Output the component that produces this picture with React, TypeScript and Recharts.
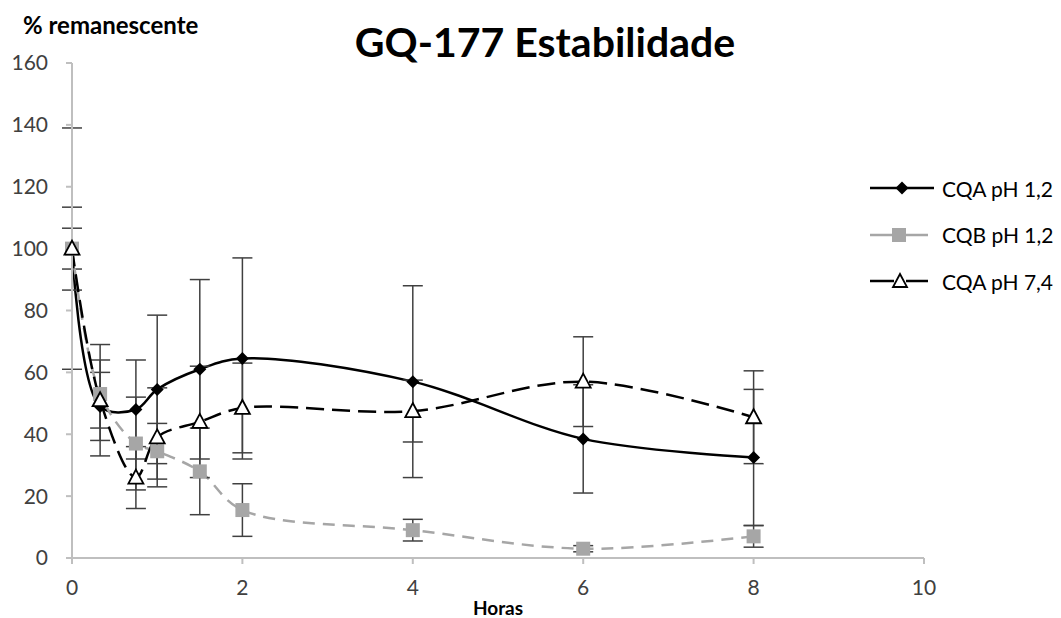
import React from 'react';
import { LineChart, Line, XAxis, YAxis, ErrorBar } from 'recharts';

const hours = [0, 0.33, 0.75, 1, 1.5, 2, 4, 6, 8];
const cqa12 = [100, 49, 48, 54.5, 61, 64.5, 57, 38.5, 32.5];
const cqa12Err = [39, 11, 16, 24, 29, 32.5, 31, 17.5, 22];
const cqb12 = [100, 53, 37, 34.5, 28, 15.5, 9, 3, 7];
const cqb12Err = [6.6, 11, 15, 9, 14, 8.5, 3.5, 1, 3.5];
const cqa74 = [100, 51, 26, 39, 44, 48.5, 47.5, 57, 45.5];
const cqa74Err = [13.4, 18, 10, 16, 18, 14.5, 10, 14.5, 15];

const xTicks = [0, 2, 4, 6, 8, 10];
const yTicks = [0, 20, 40, 60, 80, 100, 120, 140, 160];
const seriesNames = ['CQA pH 1,2', 'CQB pH 1,2', 'CQA pH 7,4'];
const titleText = 'GQ-177 Estabilidade';
const yTitle = '% remanescente';
const xTitle = 'Horas';

const data = hours.map((h, i) => ({
  h,
  a: cqa12[i],
  aErr: cqa12Err[i],
  b: cqb12[i],
  bErr: cqb12Err[i],
  c: cqa74[i],
  cErr: cqa74Err[i],
}));

const FONT = 'Lato, "Open Sans", sans-serif';
const GREY = '#a6a6a6';

// Centripetal Catmull-Rom curve (smooth line similar to spreadsheet smoothing)
function smoothCurve(context: any) {
  let pts: number[][] = [];
  return {
    areaStart() {},
    areaEnd() {},
    lineStart() {
      pts = [];
    },
    point(x: number, y: number) {
      pts.push([+x, +y]);
    },
    lineEnd() {
      const n = pts.length;
      if (!n) return;
      context.moveTo(pts[0][0], pts[0][1]);
      const dist = (p: number[], q: number[]) => Math.hypot(q[0] - p[0], q[1] - p[1]);
      for (let i = 0; i < n - 1; i++) {
        const p1 = pts[i];
        const p2 = pts[i + 1];
        const p0 = i > 0 ? pts[i - 1] : null;
        const p3 = i + 2 < n ? pts[i + 2] : null;
        const l12 = dist(p1, p2);
        const l12a = Math.sqrt(l12);
        let x1 = p1[0], y1 = p1[1], x2 = p2[0], y2 = p2[1];
        if (p0) {
          const l01 = dist(p0, p1);
          const l01a = Math.sqrt(l01);
          if (l01a > 1e-6) {
            const a = 2 * l01 + 3 * l01a * l12a + l12;
            const m = 3 * l01a * (l01a + l12a);
            x1 = (p1[0] * a - p0[0] * l12 + p2[0] * l01) / m;
            y1 = (p1[1] * a - p0[1] * l12 + p2[1] * l01) / m;
          }
        }
        if (p3) {
          const l23 = dist(p2, p3);
          const l23a = Math.sqrt(l23);
          if (l23a > 1e-6) {
            const b = 2 * l23 + 3 * l23a * l12a + l12;
            const m = 3 * l23a * (l23a + l12a);
            x2 = (p2[0] * b + p1[0] * l23 - p3[0] * l12) / m;
            y2 = (p2[1] * b + p1[1] * l23 - p3[1] * l12) / m;
          }
        }
        context.bezierCurveTo(x1, y1, x2, y2, p2[0], p2[1]);
      }
    },
  };
}

const Diamond = (p: any) => {
  const { cx, cy } = p;
  if (cx == null || cy == null) return <g key={p.index} />;
  const s = 6.5;
  return (
    <path
      key={`d${p.index}`}
      d={`M${cx},${cy - s}L${cx + s},${cy}L${cx},${cy + s}L${cx - s},${cy}Z`}
      fill="#000"
    />
  );
};

const Square = (p: any) => {
  const { cx, cy } = p;
  if (cx == null || cy == null) return <g key={p.index} />;
  const s = 7;
  return <rect key={`s${p.index}`} x={cx - s} y={cy - s} width={2 * s} height={2 * s} fill={GREY} />;
};

const Triangle = (p: any) => {
  const { cx, cy } = p;
  if (cx == null || cy == null) return <g key={p.index} />;
  return (
    <path
      key={`t${p.index}`}
      d={`M${cx},${cy - 8}L${cx + 7.5},${cy + 6}L${cx - 7.5},${cy + 6}Z`}
      fill="#fff"
      stroke="#000"
      strokeWidth={1.8}
    />
  );
};

const LegendIcon = ({ kind }: { kind: number }) => (
  <svg width={64} height={20} style={{ display: 'block' }}>
    {kind === 0 && (
      <>
        <line x1={0} y1={10} x2={64} y2={10} stroke="#000" strokeWidth={2.5} />
        <path d="M32,3.5L38.5,10L32,16.5L25.5,10Z" fill="#000" />
      </>
    )}
    {kind === 1 && (
      <>
        <line x1={0} y1={10} x2={58} y2={10} stroke={GREY} strokeWidth={2.5} />
        <rect x={22} y={3} width={14} height={14} fill={GREY} />
      </>
    )}
    {kind === 2 && (
      <>
        <line x1={0} y1={10} x2={24} y2={10} stroke="#000" strokeWidth={2.5} />
        <line x1={36} y1={10} x2={58} y2={10} stroke="#000" strokeWidth={2.5} />
        <path d="M30,3L37,16L23,16Z" fill="#fff" stroke="#000" strokeWidth={1.8} />
      </>
    )}
  </svg>
);

const tickStyle = { fill: '#404040', fontSize: 21, fontFamily: FONT };
const axisStroke = { stroke: '#bfbfbf', strokeWidth: 2 };

export default function App() {
  return (
    <div style={{ position: 'relative', width: 1045, height: 610, fontFamily: FONT }}>
      <LineChart
        width={1045}
        height={610}
        data={data}
        margin={{ top: 55, right: 129, left: 0, bottom: 0 }}
      >
        <XAxis
          dataKey="h"
          type="number"
          domain={[0, 10]}
          ticks={xTicks}
          axisLine={axisStroke}
          tickLine={axisStroke}
          tickSize={6}
          tickMargin={16}
          tick={tickStyle}
          height={60}
          label={{
            value: xTitle,
            position: 'insideBottom',
            offset: 3,
            style: { fill: '#000', fontWeight: 700, fontSize: 19, fontFamily: FONT },
          }}
        />
        <YAxis
          type="number"
          domain={[0, 160]}
          ticks={yTicks}
          axisLine={axisStroke}
          tickLine={axisStroke}
          tickSize={6}
          tickMargin={18}
          tick={tickStyle}
          width={64}
        />
        <Line
          dataKey="a"
          type={smoothCurve as any}
          stroke="#000"
          strokeWidth={2.5}
          dot={Diamond}
          activeDot={false}
          isAnimationActive={false}
        >
          <ErrorBar dataKey="aErr" direction="y" width={10} stroke="#404040" strokeWidth={1.5} />
        </Line>
        <Line
          dataKey="b"
          type={smoothCurve as any}
          stroke={GREY}
          strokeWidth={2.5}
          strokeDasharray="12 8"
          dot={Square}
          activeDot={false}
          isAnimationActive={false}
        >
          <ErrorBar dataKey="bErr" direction="y" width={10} stroke="#404040" strokeWidth={1.5} />
        </Line>
        <Line
          dataKey="c"
          type={smoothCurve as any}
          stroke="#000"
          strokeWidth={2.5}
          strokeDasharray="18 8"
          dot={Triangle}
          activeDot={false}
          isAnimationActive={false}
        >
          <ErrorBar dataKey="cErr" direction="y" width={10} stroke="#404040" strokeWidth={1.5} />
        </Line>
      </LineChart>

      <div
        style={{
          position: 'absolute',
          left: 537 - 300,
          width: 600,
          top: 12,
          textAlign: 'center',
          fontSize: 41,
          fontWeight: 700,
          color: '#000',
          lineHeight: '44px',
        }}
      >
        {titleText}
      </div>
      <div
        style={{
          position: 'absolute',
          left: 15,
          top: 4,
          fontSize: 24,
          fontWeight: 700,
          color: '#000',
          lineHeight: '26px',
          whiteSpace: 'nowrap',
        }}
      >
        {yTitle}
      </div>
      <div style={{ position: 'absolute', left: 862, top: 157 }}>
        {seriesNames.map((name, i) => (
          <div
            key={name}
            style={{ display: 'flex', alignItems: 'center', height: 46.5, whiteSpace: 'nowrap' }}
          >
            <LegendIcon kind={i} />
            <span style={{ marginLeft: 8, fontSize: 21, color: '#000' }}>{name}</span>
          </div>
        ))}
      </div>
    </div>
  );
}
